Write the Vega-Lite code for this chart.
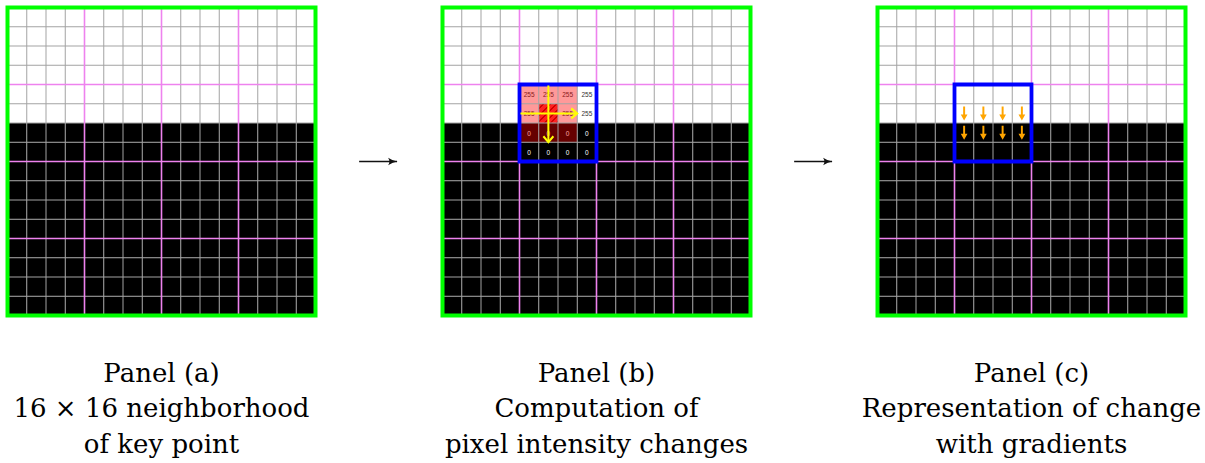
{
  "$schema": "https://vega.github.io/schema/vega-lite/v6.json",
  "padding": {"left": 5.5, "top": 5.5, "right": 0, "bottom": 0},
  "spacing": 0,
  "bounds": "flush",
  "datasets": {
    "pixels": [
      {"r":0,"c":0,"v":255},{"r":0,"c":1,"v":255},{"r":0,"c":2,"v":255},{"r":0,"c":3,"v":255},{"r":0,"c":4,"v":255},{"r":0,"c":5,"v":255},{"r":0,"c":6,"v":255},{"r":0,"c":7,"v":255},{"r":0,"c":8,"v":255},{"r":0,"c":9,"v":255},{"r":0,"c":10,"v":255},{"r":0,"c":11,"v":255},{"r":0,"c":12,"v":255},{"r":0,"c":13,"v":255},{"r":0,"c":14,"v":255},{"r":0,"c":15,"v":255},
      {"r":1,"c":0,"v":255},{"r":1,"c":1,"v":255},{"r":1,"c":2,"v":255},{"r":1,"c":3,"v":255},{"r":1,"c":4,"v":255},{"r":1,"c":5,"v":255},{"r":1,"c":6,"v":255},{"r":1,"c":7,"v":255},{"r":1,"c":8,"v":255},{"r":1,"c":9,"v":255},{"r":1,"c":10,"v":255},{"r":1,"c":11,"v":255},{"r":1,"c":12,"v":255},{"r":1,"c":13,"v":255},{"r":1,"c":14,"v":255},{"r":1,"c":15,"v":255},
      {"r":2,"c":0,"v":255},{"r":2,"c":1,"v":255},{"r":2,"c":2,"v":255},{"r":2,"c":3,"v":255},{"r":2,"c":4,"v":255},{"r":2,"c":5,"v":255},{"r":2,"c":6,"v":255},{"r":2,"c":7,"v":255},{"r":2,"c":8,"v":255},{"r":2,"c":9,"v":255},{"r":2,"c":10,"v":255},{"r":2,"c":11,"v":255},{"r":2,"c":12,"v":255},{"r":2,"c":13,"v":255},{"r":2,"c":14,"v":255},{"r":2,"c":15,"v":255},
      {"r":3,"c":0,"v":255},{"r":3,"c":1,"v":255},{"r":3,"c":2,"v":255},{"r":3,"c":3,"v":255},{"r":3,"c":4,"v":255},{"r":3,"c":5,"v":255},{"r":3,"c":6,"v":255},{"r":3,"c":7,"v":255},{"r":3,"c":8,"v":255},{"r":3,"c":9,"v":255},{"r":3,"c":10,"v":255},{"r":3,"c":11,"v":255},{"r":3,"c":12,"v":255},{"r":3,"c":13,"v":255},{"r":3,"c":14,"v":255},{"r":3,"c":15,"v":255},
      {"r":4,"c":0,"v":255},{"r":4,"c":1,"v":255},{"r":4,"c":2,"v":255},{"r":4,"c":3,"v":255},{"r":4,"c":4,"v":255},{"r":4,"c":5,"v":255},{"r":4,"c":6,"v":255},{"r":4,"c":7,"v":255},{"r":4,"c":8,"v":255},{"r":4,"c":9,"v":255},{"r":4,"c":10,"v":255},{"r":4,"c":11,"v":255},{"r":4,"c":12,"v":255},{"r":4,"c":13,"v":255},{"r":4,"c":14,"v":255},{"r":4,"c":15,"v":255},
      {"r":5,"c":0,"v":255},{"r":5,"c":1,"v":255},{"r":5,"c":2,"v":255},{"r":5,"c":3,"v":255},{"r":5,"c":4,"v":255},{"r":5,"c":5,"v":255},{"r":5,"c":6,"v":255},{"r":5,"c":7,"v":255},{"r":5,"c":8,"v":255},{"r":5,"c":9,"v":255},{"r":5,"c":10,"v":255},{"r":5,"c":11,"v":255},{"r":5,"c":12,"v":255},{"r":5,"c":13,"v":255},{"r":5,"c":14,"v":255},{"r":5,"c":15,"v":255},
      {"r":6,"c":0,"v":0},{"r":6,"c":1,"v":0},{"r":6,"c":2,"v":0},{"r":6,"c":3,"v":0},{"r":6,"c":4,"v":0},{"r":6,"c":5,"v":0},{"r":6,"c":6,"v":0},{"r":6,"c":7,"v":0},{"r":6,"c":8,"v":0},{"r":6,"c":9,"v":0},{"r":6,"c":10,"v":0},{"r":6,"c":11,"v":0},{"r":6,"c":12,"v":0},{"r":6,"c":13,"v":0},{"r":6,"c":14,"v":0},{"r":6,"c":15,"v":0},
      {"r":7,"c":0,"v":0},{"r":7,"c":1,"v":0},{"r":7,"c":2,"v":0},{"r":7,"c":3,"v":0},{"r":7,"c":4,"v":0},{"r":7,"c":5,"v":0},{"r":7,"c":6,"v":0},{"r":7,"c":7,"v":0},{"r":7,"c":8,"v":0},{"r":7,"c":9,"v":0},{"r":7,"c":10,"v":0},{"r":7,"c":11,"v":0},{"r":7,"c":12,"v":0},{"r":7,"c":13,"v":0},{"r":7,"c":14,"v":0},{"r":7,"c":15,"v":0},
      {"r":8,"c":0,"v":0},{"r":8,"c":1,"v":0},{"r":8,"c":2,"v":0},{"r":8,"c":3,"v":0},{"r":8,"c":4,"v":0},{"r":8,"c":5,"v":0},{"r":8,"c":6,"v":0},{"r":8,"c":7,"v":0},{"r":8,"c":8,"v":0},{"r":8,"c":9,"v":0},{"r":8,"c":10,"v":0},{"r":8,"c":11,"v":0},{"r":8,"c":12,"v":0},{"r":8,"c":13,"v":0},{"r":8,"c":14,"v":0},{"r":8,"c":15,"v":0},
      {"r":9,"c":0,"v":0},{"r":9,"c":1,"v":0},{"r":9,"c":2,"v":0},{"r":9,"c":3,"v":0},{"r":9,"c":4,"v":0},{"r":9,"c":5,"v":0},{"r":9,"c":6,"v":0},{"r":9,"c":7,"v":0},{"r":9,"c":8,"v":0},{"r":9,"c":9,"v":0},{"r":9,"c":10,"v":0},{"r":9,"c":11,"v":0},{"r":9,"c":12,"v":0},{"r":9,"c":13,"v":0},{"r":9,"c":14,"v":0},{"r":9,"c":15,"v":0},
      {"r":10,"c":0,"v":0},{"r":10,"c":1,"v":0},{"r":10,"c":2,"v":0},{"r":10,"c":3,"v":0},{"r":10,"c":4,"v":0},{"r":10,"c":5,"v":0},{"r":10,"c":6,"v":0},{"r":10,"c":7,"v":0},{"r":10,"c":8,"v":0},{"r":10,"c":9,"v":0},{"r":10,"c":10,"v":0},{"r":10,"c":11,"v":0},{"r":10,"c":12,"v":0},{"r":10,"c":13,"v":0},{"r":10,"c":14,"v":0},{"r":10,"c":15,"v":0},
      {"r":11,"c":0,"v":0},{"r":11,"c":1,"v":0},{"r":11,"c":2,"v":0},{"r":11,"c":3,"v":0},{"r":11,"c":4,"v":0},{"r":11,"c":5,"v":0},{"r":11,"c":6,"v":0},{"r":11,"c":7,"v":0},{"r":11,"c":8,"v":0},{"r":11,"c":9,"v":0},{"r":11,"c":10,"v":0},{"r":11,"c":11,"v":0},{"r":11,"c":12,"v":0},{"r":11,"c":13,"v":0},{"r":11,"c":14,"v":0},{"r":11,"c":15,"v":0},
      {"r":12,"c":0,"v":0},{"r":12,"c":1,"v":0},{"r":12,"c":2,"v":0},{"r":12,"c":3,"v":0},{"r":12,"c":4,"v":0},{"r":12,"c":5,"v":0},{"r":12,"c":6,"v":0},{"r":12,"c":7,"v":0},{"r":12,"c":8,"v":0},{"r":12,"c":9,"v":0},{"r":12,"c":10,"v":0},{"r":12,"c":11,"v":0},{"r":12,"c":12,"v":0},{"r":12,"c":13,"v":0},{"r":12,"c":14,"v":0},{"r":12,"c":15,"v":0},
      {"r":13,"c":0,"v":0},{"r":13,"c":1,"v":0},{"r":13,"c":2,"v":0},{"r":13,"c":3,"v":0},{"r":13,"c":4,"v":0},{"r":13,"c":5,"v":0},{"r":13,"c":6,"v":0},{"r":13,"c":7,"v":0},{"r":13,"c":8,"v":0},{"r":13,"c":9,"v":0},{"r":13,"c":10,"v":0},{"r":13,"c":11,"v":0},{"r":13,"c":12,"v":0},{"r":13,"c":13,"v":0},{"r":13,"c":14,"v":0},{"r":13,"c":15,"v":0},
      {"r":14,"c":0,"v":0},{"r":14,"c":1,"v":0},{"r":14,"c":2,"v":0},{"r":14,"c":3,"v":0},{"r":14,"c":4,"v":0},{"r":14,"c":5,"v":0},{"r":14,"c":6,"v":0},{"r":14,"c":7,"v":0},{"r":14,"c":8,"v":0},{"r":14,"c":9,"v":0},{"r":14,"c":10,"v":0},{"r":14,"c":11,"v":0},{"r":14,"c":12,"v":0},{"r":14,"c":13,"v":0},{"r":14,"c":14,"v":0},{"r":14,"c":15,"v":0},
      {"r":15,"c":0,"v":0},{"r":15,"c":1,"v":0},{"r":15,"c":2,"v":0},{"r":15,"c":3,"v":0},{"r":15,"c":4,"v":0},{"r":15,"c":5,"v":0},{"r":15,"c":6,"v":0},{"r":15,"c":7,"v":0},{"r":15,"c":8,"v":0},{"r":15,"c":9,"v":0},{"r":15,"c":10,"v":0},{"r":15,"c":11,"v":0},{"r":15,"c":12,"v":0},{"r":15,"c":13,"v":0},{"r":15,"c":14,"v":0},{"r":15,"c":15,"v":0}
    ],
    "lines": [{"p":1},{"p":2},{"p":3},{"p":4},{"p":5},{"p":6},{"p":7},{"p":8},{"p":9},{"p":10},{"p":11},{"p":12},{"p":13},{"p":14},{"p":15}],
    "neighbours": [{"r":4,"c":4},{"r":4,"c":5},{"r":4,"c":6},{"r":5,"c":4},{"r":5,"c":6},{"r":6,"c":4},{"r":6,"c":5},{"r":6,"c":6}],
    "keypoint": [{"r":5,"c":5}],
    "window": [{"c0":4,"c1":8,"r0":4,"r1":8}],
    "differences": [
      {"x0":4.05,"x1":7,"y0":5.5,"y1":5.5,"angle":0},
      {"x0":5.5,"x1":5.5,"y0":4.05,"y1":7,"angle":90}
    ],
    "gradients": [
      {"r":5,"c":4},{"r":5,"c":5},{"r":5,"c":6},{"r":5,"c":7},
      {"r":6,"c":4},{"r":6,"c":5},{"r":6,"c":6},{"r":6,"c":7}
    ],
    "arrow": [{"x0":-0.31,"x1":0.29,"y":0}]
  },
  "hconcat": [
    {
      "width": 308, "height": 308,
      "title": {"text": ["Panel (a)", "16 × 16 neighborhood", "of key point"]},
      "layer": [
        {
          "data": {"name": "pixels"},
          "transform": [{"calculate": "datum.c + 1", "as": "c1"}, {"calculate": "datum.r + 1", "as": "r1"}],
          "mark": {"type": "rect"},
          "encoding": {
            "x": {"field": "c", "type": "quantitative", "scale": {"domain": [0, 16], "nice": false, "zero": false}, "axis": null},
            "x2": {"field": "c1"},
            "y": {"field": "r", "type": "quantitative", "scale": {"domain": [0, 16], "nice": false, "zero": false, "reverse": true}, "axis": null},
            "y2": {"field": "r1"},
            "color": {"field": "v", "type": "quantitative", "scale": {"domain": [0, 255], "range": ["#000000", "#ffffff"]}, "legend": null}
          }
        },
        {"data": {"name": "lines"}, "transform": [{"filter": "datum.p % 4 !== 0"}], "mark": {"type": "rule", "color": "#a3a3a3", "strokeWidth": 1}, "encoding": {"x": {"field": "p", "type": "quantitative", "axis": null}}},
        {"data": {"name": "lines"}, "transform": [{"filter": "datum.p % 4 !== 0"}], "mark": {"type": "rule", "color": "#a3a3a3", "strokeWidth": 1}, "encoding": {"y": {"field": "p", "type": "quantitative", "axis": null}}},
        {"data": {"name": "lines"}, "transform": [{"filter": "datum.p % 4 === 0"}], "mark": {"type": "rule", "color": "#ee82ee", "strokeWidth": 1.6}, "encoding": {"x": {"field": "p", "type": "quantitative", "axis": null}}},
        {"data": {"name": "lines"}, "transform": [{"filter": "datum.p % 4 === 0"}], "mark": {"type": "rule", "color": "#ee82ee", "strokeWidth": 1.6}, "encoding": {"y": {"field": "p", "type": "quantitative", "axis": null}}},
        {
          "data": {"values": [{}]},
          "mark": {"type": "rect", "filled": false, "color": "#00ff00", "strokeWidth": 4},
          "encoding": {"x": {"datum": 0, "type": "quantitative"}, "x2": {"datum": 16}, "y": {"datum": 0, "type": "quantitative"}, "y2": {"datum": 16}}
        }
      ]
    },
    {
      "width": 126.5, "height": 308,
      "data": {"name": "arrow"},
      "layer": [
        {
          "mark": {"type": "rule", "color": "#111111", "strokeWidth": 1.3},
          "encoding": {
            "x": {"field": "x0", "type": "quantitative", "scale": {"domain": [-1, 1], "nice": false}, "axis": null},
            "x2": {"field": "x1"},
            "y": {"field": "y", "type": "quantitative", "scale": {"domain": [-1, 1], "nice": false}, "axis": null}
          }
        },
        {
          "mark": {"type": "point", "shape": "M -2 -0.85 Q -0.9 -0.15 0 0 Q -0.9 0.15 -2 0.85 Q -1.4 0 -2 -0.85 Z", "filled": true, "color": "#111111", "opacity": 1, "size": 81},
          "encoding": {
            "x": {"field": "x1", "type": "quantitative", "axis": null},
            "y": {"field": "y", "type": "quantitative", "axis": null}
          }
        }
      ]
    },
    {
      "width": 308, "height": 308,
      "title": {"text": ["Panel (b)", "Computation of", "pixel intensity changes"]},
      "layer": [
        {
          "data": {"name": "pixels"},
          "transform": [{"calculate": "datum.c + 1", "as": "c1"}, {"calculate": "datum.r + 1", "as": "r1"}],
          "mark": {"type": "rect"},
          "encoding": {
            "x": {"field": "c", "type": "quantitative", "scale": {"domain": [0, 16], "nice": false, "zero": false}, "axis": null},
            "x2": {"field": "c1"},
            "y": {"field": "r", "type": "quantitative", "scale": {"domain": [0, 16], "nice": false, "zero": false, "reverse": true}, "axis": null},
            "y2": {"field": "r1"},
            "color": {"field": "v", "type": "quantitative", "scale": {"domain": [0, 255], "range": ["#000000", "#ffffff"]}, "legend": null}
          }
        },
        {
          "data": {"name": "pixels"},
          "transform": [
            {"filter": "datum.r >= 4 && datum.r <= 7 && datum.c >= 4 && datum.c <= 7"},
            {"calculate": "datum.c + 0.5", "as": "cm"},
            {"calculate": "datum.r + 0.5", "as": "rm"}
          ],
          "mark": {"type": "text", "font": "Liberation Sans", "fontSize": 6.5, "align": "center", "baseline": "middle", "dy": 1},
          "encoding": {
            "x": {"field": "cm", "type": "quantitative", "axis": null},
            "y": {"field": "rm", "type": "quantitative", "axis": null},
            "text": {"field": "v", "type": "quantitative"},
            "color": {"condition": {"test": "datum.v > 127", "value": "#333333"}, "value": "#ffffff"}
          }
        },
        {
          "data": {"name": "neighbours"},
          "transform": [{"calculate": "datum.c + 1", "as": "c1"}, {"calculate": "datum.r + 1", "as": "r1"}],
          "mark": {"type": "rect", "color": "#ff0000", "opacity": 0.4},
          "encoding": {"x": {"field": "c", "type": "quantitative", "axis": null}, "x2": {"field": "c1"}, "y": {"field": "r", "type": "quantitative", "axis": null}, "y2": {"field": "r1"}}
        },
        {
          "data": {"name": "keypoint"},
          "transform": [{"calculate": "datum.c + 1", "as": "c1"}, {"calculate": "datum.r + 1", "as": "r1"}],
          "mark": {
            "type": "rect",
            "opacity": 1,
            "color": {
              "gradient": "linear", "x1": 0, "y1": 0, "x2": 1, "y2": 1,
              "stops": [
                {"offset": 0, "color": "#ff2020"}, {"offset": 0.11, "color": "#ff2020"}, {"offset": 0.11, "color": "#d00000"}, {"offset": 0.1667, "color": "#d00000"},
                {"offset": 0.1667, "color": "#ff2020"}, {"offset": 0.277, "color": "#ff2020"}, {"offset": 0.277, "color": "#d00000"}, {"offset": 0.333, "color": "#d00000"},
                {"offset": 0.333, "color": "#ff2020"}, {"offset": 0.444, "color": "#ff2020"}, {"offset": 0.444, "color": "#d00000"}, {"offset": 0.5, "color": "#d00000"},
                {"offset": 0.5, "color": "#ff2020"}, {"offset": 0.611, "color": "#ff2020"}, {"offset": 0.611, "color": "#d00000"}, {"offset": 0.667, "color": "#d00000"},
                {"offset": 0.667, "color": "#ff2020"}, {"offset": 0.777, "color": "#ff2020"}, {"offset": 0.777, "color": "#d00000"}, {"offset": 0.833, "color": "#d00000"},
                {"offset": 0.833, "color": "#ff2020"}, {"offset": 0.944, "color": "#ff2020"}, {"offset": 0.944, "color": "#d00000"}, {"offset": 1, "color": "#d00000"}
              ]
            }
          },
          "encoding": {"x": {"field": "c", "type": "quantitative", "axis": null}, "x2": {"field": "c1"}, "y": {"field": "r", "type": "quantitative", "axis": null}, "y2": {"field": "r1"}}
        },
        {"data": {"name": "lines"}, "transform": [{"filter": "datum.p % 4 !== 0"}], "mark": {"type": "rule", "color": "#a3a3a3", "strokeWidth": 1}, "encoding": {"x": {"field": "p", "type": "quantitative", "axis": null}}},
        {"data": {"name": "lines"}, "transform": [{"filter": "datum.p % 4 !== 0"}], "mark": {"type": "rule", "color": "#a3a3a3", "strokeWidth": 1}, "encoding": {"y": {"field": "p", "type": "quantitative", "axis": null}}},
        {"data": {"name": "lines"}, "transform": [{"filter": "datum.p % 4 === 0"}], "mark": {"type": "rule", "color": "#ee82ee", "strokeWidth": 1.6}, "encoding": {"x": {"field": "p", "type": "quantitative", "axis": null}}},
        {"data": {"name": "lines"}, "transform": [{"filter": "datum.p % 4 === 0"}], "mark": {"type": "rule", "color": "#ee82ee", "strokeWidth": 1.6}, "encoding": {"y": {"field": "p", "type": "quantitative", "axis": null}}},
        {
          "data": {"name": "window"},
          "mark": {"type": "rect", "filled": false, "color": "#0000ff", "strokeWidth": 3.8},
          "encoding": {"x": {"field": "c0", "type": "quantitative", "axis": null}, "x2": {"field": "c1"}, "y": {"field": "r0", "type": "quantitative", "axis": null}, "y2": {"field": "r1"}}
        },
        {
          "data": {"name": "differences"},
          "mark": {"type": "rule", "color": "#ffff00", "strokeWidth": 2},
          "encoding": {"x": {"field": "x0", "type": "quantitative", "axis": null}, "x2": {"field": "x1"}, "y": {"field": "y0", "type": "quantitative", "axis": null}, "y2": {"field": "y1"}}
        },
        {
          "data": {"name": "differences"},
          "mark": {"type": "point", "shape": "M -1.2 -1 L 0 0 L -1.2 1", "filled": false, "color": "#ffff00", "strokeWidth": 2, "opacity": 1, "size": 100},
          "encoding": {
            "x": {"field": "x1", "type": "quantitative", "axis": null},
            "y": {"field": "y1", "type": "quantitative", "axis": null},
            "angle": {"field": "angle", "type": "quantitative", "scale": null}
          }
        },
        {
          "data": {"values": [{}]},
          "mark": {"type": "rect", "filled": false, "color": "#00ff00", "strokeWidth": 4},
          "encoding": {"x": {"datum": 0, "type": "quantitative"}, "x2": {"datum": 16}, "y": {"datum": 0, "type": "quantitative"}, "y2": {"datum": 16}}
        }
      ]
    },
    {
      "width": 126.5, "height": 308,
      "data": {"name": "arrow"},
      "layer": [
        {
          "mark": {"type": "rule", "color": "#111111", "strokeWidth": 1.3},
          "encoding": {
            "x": {"field": "x0", "type": "quantitative", "scale": {"domain": [-1, 1], "nice": false}, "axis": null},
            "x2": {"field": "x1"},
            "y": {"field": "y", "type": "quantitative", "scale": {"domain": [-1, 1], "nice": false}, "axis": null}
          }
        },
        {
          "mark": {"type": "point", "shape": "M -2 -0.85 Q -0.9 -0.15 0 0 Q -0.9 0.15 -2 0.85 Q -1.4 0 -2 -0.85 Z", "filled": true, "color": "#111111", "opacity": 1, "size": 81},
          "encoding": {
            "x": {"field": "x1", "type": "quantitative", "axis": null},
            "y": {"field": "y", "type": "quantitative", "axis": null}
          }
        }
      ]
    },
    {
      "width": 308, "height": 308,
      "title": {"text": ["Panel (c)", "Representation of change", "with gradients"]},
      "layer": [
        {
          "data": {"name": "pixels"},
          "transform": [{"calculate": "datum.c + 1", "as": "c1"}, {"calculate": "datum.r + 1", "as": "r1"}],
          "mark": {"type": "rect"},
          "encoding": {
            "x": {"field": "c", "type": "quantitative", "scale": {"domain": [0, 16], "nice": false, "zero": false}, "axis": null},
            "x2": {"field": "c1"},
            "y": {"field": "r", "type": "quantitative", "scale": {"domain": [0, 16], "nice": false, "zero": false, "reverse": true}, "axis": null},
            "y2": {"field": "r1"},
            "color": {"field": "v", "type": "quantitative", "scale": {"domain": [0, 255], "range": ["#000000", "#ffffff"]}, "legend": null}
          }
        },
        {"data": {"name": "lines"}, "transform": [{"filter": "datum.p % 4 !== 0"}], "mark": {"type": "rule", "color": "#a3a3a3", "strokeWidth": 1}, "encoding": {"x": {"field": "p", "type": "quantitative", "axis": null}}},
        {"data": {"name": "lines"}, "transform": [{"filter": "datum.p % 4 !== 0"}], "mark": {"type": "rule", "color": "#a3a3a3", "strokeWidth": 1}, "encoding": {"y": {"field": "p", "type": "quantitative", "axis": null}}},
        {"data": {"name": "lines"}, "transform": [{"filter": "datum.p % 4 === 0"}], "mark": {"type": "rule", "color": "#ee82ee", "strokeWidth": 1.6}, "encoding": {"x": {"field": "p", "type": "quantitative", "axis": null}}},
        {"data": {"name": "lines"}, "transform": [{"filter": "datum.p % 4 === 0"}], "mark": {"type": "rule", "color": "#ee82ee", "strokeWidth": 1.6}, "encoding": {"y": {"field": "p", "type": "quantitative", "axis": null}}},
        {
          "data": {"name": "window"},
          "mark": {"type": "rect", "filled": false, "color": "#0000ff", "strokeWidth": 3.8},
          "encoding": {"x": {"field": "c0", "type": "quantitative", "axis": null}, "x2": {"field": "c1"}, "y": {"field": "r0", "type": "quantitative", "axis": null}, "y2": {"field": "r1"}}
        },
        {
          "data": {"name": "gradients"},
          "transform": [{"calculate": "datum.c + 0.5", "as": "cm"}, {"calculate": "datum.r + 0.5", "as": "rm"}],
          "mark": {"type": "point", "shape": "M -0.14 -1 L 0.14 -1 L 0.14 0.15 L 0.48 0.15 L 0 1 L -0.48 0.15 L -0.14 0.15 Z", "filled": true, "color": "#ffa500", "opacity": 1, "size": 196},
          "encoding": {"x": {"field": "cm", "type": "quantitative", "axis": null}, "y": {"field": "rm", "type": "quantitative", "axis": null}}
        },
        {
          "data": {"values": [{}]},
          "mark": {"type": "rect", "filled": false, "color": "#00ff00", "strokeWidth": 4},
          "encoding": {"x": {"datum": 0, "type": "quantitative"}, "x2": {"datum": 16}, "y": {"datum": 0, "type": "quantitative"}, "y2": {"datum": 16}}
        }
      ]
    }
  ],
  "config": {
    "view": {"stroke": null},
    "title": {
      "orient": "bottom",
      "anchor": "middle",
      "font": "DejaVu Serif",
      "fontSize": 26,
      "fontWeight": "normal",
      "lineHeight": 35.5,
      "color": "#000000",
      "baseline": "top",
      "offset": 43
    }
  }
}
